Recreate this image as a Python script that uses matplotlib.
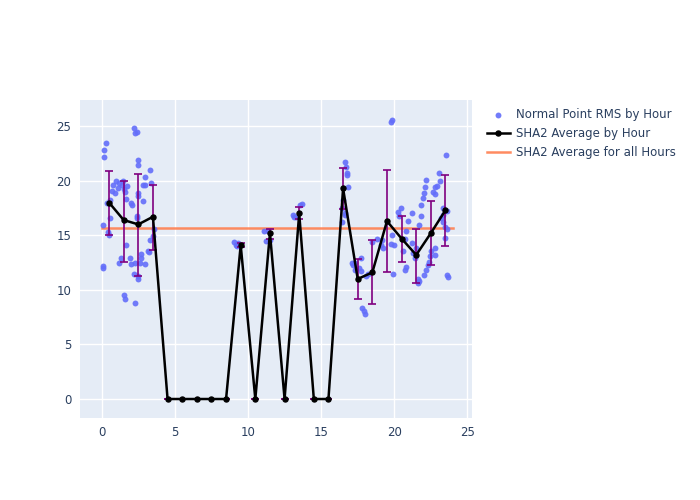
import matplotlib.pyplot as plt

# scatter: normal point rms by hour
pt_hour = [0.07, 0.07, 0.14, 0.14, 0.27, 0.1, 0.35, 0.4, 0.5, 0.55, 0.55, 0.7, 0.8, 0.95, 0.9,
           1.1, 1.2, 1.3, 1.4, 1.5, 1.6, 1.65, 1.5, 1.6, 1.7, 1.65, 1.2, 1.45,
           1.9, 2.0, 2.0, 2.05, 2.2, 2.25, 2.4, 2.3, 2.2, 2.25, 2.4, 2.4, 2.45, 2.45, 2.45, 2.5,
           2.45, 2.5, 2.6, 2.65, 2.7, 2.8, 2.8, 2.95, 2.95,
           2.95, 3.15, 3.3, 3.3, 3.4, 3.5, 3.55, 3.25,
           9.05, 9.15, 9.25, 9.3,
           11.1, 11.35, 11.2, 11.5,
           13.1, 13.15, 13.3, 13.55, 13.7,
           16.45, 16.6, 16.65, 16.7, 16.75, 16.75, 16.85, 16.5, 16.45, 16.6,
           17.1, 17.2, 17.3, 17.3, 17.6, 17.7, 17.75, 17.8, 17.9, 18.0,
           18.1, 18.2, 18.5, 18.8, 19.1, 19.15, 19.2,
           19.85, 19.8, 19.8, 19.85, 19.9, 20.0,
           20.25, 20.35, 20.45, 20.6, 20.7, 20.75, 20.8, 20.95, 20.8, 21.2,
           21.2, 21.3, 21.4, 21.5, 21.6, 21.65, 21.7, 21.7, 21.8, 21.8, 21.95,
           22.05, 22.1, 22.2, 22.05, 22.2, 22.3, 22.4, 22.45, 22.5, 22.75, 22.8, 22.65, 22.75,
           22.8, 22.95, 23.05, 23.1, 23.2, 23.3, 23.35, 23.35, 23.5, 23.5, 23.55, 23.6, 23.7, 23.6, 23.6]
pt_rms = [12.2, 12.0, 22.2, 22.8, 23.5, 15.9, 18.0, 15.3, 15.0, 16.6, 18.2, 19.1, 19.6, 20.0, 18.9,
          19.3, 12.5, 12.9, 19.6, 19.2, 19.0, 14.1, 9.5, 9.2, 19.5, 18.3, 19.8, 20.0,
          12.9, 12.4, 18.0, 17.8, 24.8, 24.4, 24.5, 12.5, 11.5, 8.8, 16.6, 16.8, 21.9, 21.4, 18.6, 18.9,
          11.0, 11.3, 12.5, 12.9, 13.3, 18.1, 19.6, 20.3, 12.4,
          19.6, 13.6, 14.6, 21.0, 19.8, 14.9, 15.6, 13.5,
          14.4, 14.1, 14.0, 14.3,
          15.4, 15.4, 14.5, 14.6,
          16.9, 16.7, 16.7, 17.8, 17.85,
          16.2, 17.0, 21.7, 21.3, 20.5, 20.7, 19.4, 18.2, 17.5, 16.85,
          12.5, 12.3, 12.5, 11.8, 12.0, 12.9, 11.7, 8.3, 8.1, 7.8,
          11.3, 11.5, 14.4, 14.7, 14.1, 14.6, 13.8,
          25.6, 25.4, 14.2, 15.0, 11.5, 14.1,
          17.1, 16.8, 17.5, 13.6, 14.7, 11.8, 12.1, 16.3, 15.4, 17.0,
          14.3, 13.4, 12.9, 13.8, 11.0, 10.6, 10.8, 15.9, 16.8, 17.8, 18.4,
          18.9, 19.4, 20.1, 11.4, 11.8, 12.3, 12.6, 13.1, 13.6, 13.8, 13.2, 19.0, 18.8,
          19.4, 19.5, 20.7, 20.0, 16.6, 16.9, 17.5, 16.2, 15.8, 14.8, 22.4, 11.4, 11.2, 17.2, 15.6]

# hourly averages and spread
hours = [h + 0.5 for h in range(24)]
avg = [18.0, 16.4, 16.0, 16.7, 0, 0, 0, 0, 0, 14.1, 0, 15.2, 0, 17.0, 0, 0,
       19.3, 11.0, 11.6, 16.3, 14.7, 13.2, 15.2, 17.3]
err_lo = [3.0, 3.8, 4.7, 3.0, 0, 0, 0, 0, 0, 0.2, 0, 0.5, 0, 0.5, 0, 0,
          1.9, 1.8, 2.9, 4.7, 2.1, 2.6, 2.9, 3.3]
err_hi = [2.9, 3.6, 4.6, 2.9, 0, 0, 0, 0, 0, 0.2, 0, 0.4, 0, 0.6, 0, 0,
          1.9, 1.8, 3.0, 4.7, 2.1, 2.4, 2.9, 3.2]
overall_avg = 15.7

fig = plt.figure(figsize=(7, 5), dpi=100)
ax = fig.add_axes([0.114, 0.164, 0.56, 0.636])
ax.set_facecolor('#e5ecf6')

ax.scatter(pt_hour, pt_rms, s=18, color='#636efa', alpha=0.9, linewidths=0,
           label='Normal Point RMS by Hour', zorder=3)
ax.errorbar(hours, avg, yerr=[err_lo, err_hi], fmt='none', ecolor='purple',
            elinewidth=1.2, capsize=3, capthick=1.2, zorder=4)
ax.plot(hours, avg, '-o', color='black', lw=1.8, ms=3.6, label='SHA2 Average by Hour', zorder=5)
ax.plot([0, 24], [overall_avg, overall_avg], color='#ff7f50', lw=1.8, alpha=0.9,
        label='SHA2 Average for all Hours', zorder=2)

ax.set_xlim(-1.5, 25.3)
ax.set_ylim(-1.74, 27.4)
ax.set_xticks([0, 5, 10, 15, 20, 25])
ax.set_yticks([0, 5, 10, 15, 20, 25])
ax.grid(color='white', lw=1)
ax.set_axisbelow(True)
for s in ax.spines.values():
    s.set_visible(False)
ax.tick_params(length=0, labelsize=8.5, labelcolor='#2a3f5f', pad=6)

fig.legend(loc='upper left', bbox_to_anchor=(0.68, 0.805), frameon=False,
           fontsize=8.5, labelcolor='#2a3f5f', handlelength=2.0, handletextpad=0.5)

fig.savefig('out.png')
